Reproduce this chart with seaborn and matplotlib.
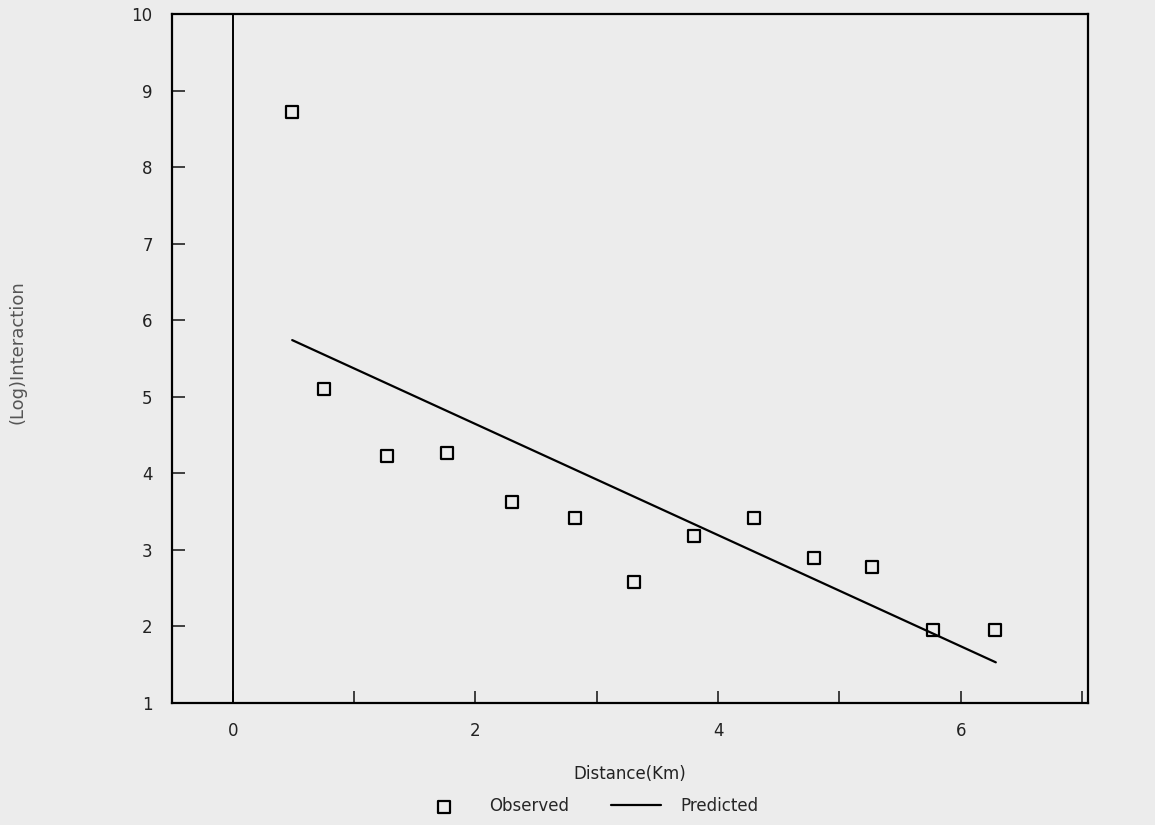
import pandas as pd
import seaborn as sns
import matplotlib.pyplot as plt

# observed points
distance = [0.49, 0.75, 1.27, 1.77, 2.30, 2.82, 3.31, 3.80, 4.30, 4.79, 5.27, 5.77, 6.28]
interaction = [8.72, 5.10, 4.22, 4.26, 3.63, 3.42, 2.58, 3.18, 3.41, 2.89, 2.78, 1.95, 1.95]

# predicted line (end points)
pred_distance = [0.49, 6.29]
pred_interaction = [5.74, 1.53]

x_ticks = [0, 1, 2, 3, 4, 5, 6, 7]
x_tick_labels = ['0', '', '2', '', '4', '', '6', '']
y_ticks = [1, 2, 3, 4, 5, 6, 7, 8, 9, 10]

bg = '#ececec'
sns.set_style("ticks")
plt.rcParams['font.family'] = ['DejaVu Sans']

obs = pd.DataFrame({'Distance': distance, 'Interaction': interaction})
pred = pd.DataFrame({'Distance': pred_distance, 'Interaction': pred_interaction})

fig = plt.figure(figsize=(11.55, 8.25), dpi=100, facecolor=bg)
ax = fig.add_axes([0.149, 0.148, 0.793, 0.835], facecolor=bg)

sns.scatterplot(data=obs, x='Distance', y='Interaction', marker='s', s=75,
                facecolor='none', edgecolor='black', linewidth=1.6,
                label='Observed', ax=ax)
sns.lineplot(data=pred, x='Distance', y='Interaction', color='black',
             linewidth=1.6, label='Predicted', ax=ax)
ax.axvline(0, color='black', linewidth=1.4)

ax.set_xlim(-0.5, 7.05)
ax.set_ylim(1, 10)
ax.set_xticks(x_ticks)
ax.set_xticklabels(x_tick_labels)
ax.set_yticks(y_ticks)
ax.tick_params(direction='in', length=9, width=1.2, labelsize=12, colors='#222222')
ax.tick_params(axis='x', pad=14)
ax.tick_params(axis='y', pad=14)
for sp in ax.spines.values():
    sp.set_color('black')
    sp.set_linewidth(1.6)

ax.set_xlabel('Distance(Km)', fontsize=12, labelpad=18, color='#222222')
ax.set_ylabel('')
fig.text(0.015, 0.573, '(Log)Interaction', rotation=90, fontsize=13,
         color='#555555', ha='center', va='center')

ax.get_legend().remove()
handles, labels = ax.get_legend_handles_labels()
fig.legend(handles, labels, loc='center', bbox_to_anchor=(0.51, 0.023), ncol=2,
           frameon=False, fontsize=12, handlelength=3, handletextpad=1.2,
           columnspacing=2.5)

plt.savefig('out.png', dpi=100, facecolor=bg)
